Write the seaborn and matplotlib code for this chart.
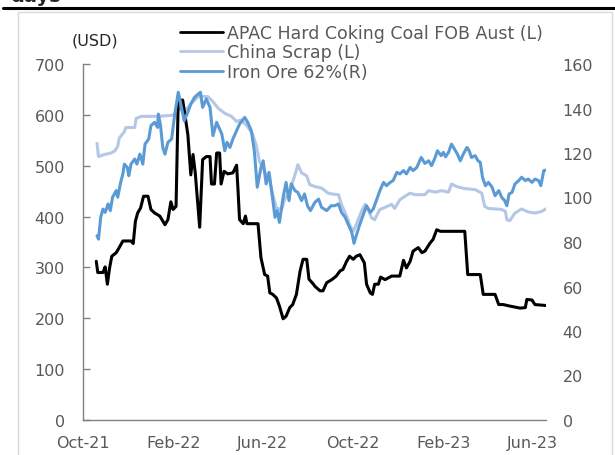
import pandas as pd
import matplotlib
matplotlib.use("Agg")
import matplotlib.pyplot as plt
from matplotlib.patches import Rectangle
from matplotlib.lines import Line2D
import seaborn as sns

# Series start date (days since 1 Oct 2021)
start = pd.Timestamp("2021-10-01")

coal_day = [18, 20, 27, 30, 33, 36, 39, 45, 49, 54, 65, 68, 71, 74, 78, 82, 88, 92, 97, 104,
            111, 115, 119, 122, 126, 129, 132, 135, 138, 142, 146, 149, 152, 158, 162, 167, 172, 174, 178, 181,
            185, 187, 191, 196, 203, 208, 210, 212, 217, 220, 222, 237, 241, 246, 250, 253, 257, 262, 266, 271,
            275, 280, 284, 289, 294, 298, 303, 306, 312,
            314, 321, 325, 330, 337, 343, 348, 352, 357, 361, 366, 370, 375, 381, 384, 389, 392, 395, 400, 403,
            409, 418, 429, 434, 438, 443, 447, 454, 459, 463, 470, 474, 479, 484, 517, 521, 538, 542, 558, 563,
            569, 578, 585, 592, 599, 601, 608, 612, 628]
coal_usd = [312, 290, 290, 301, 267, 299, 322, 329, 339, 352, 352, 347, 391, 407, 417, 440, 440, 414, 407, 401,
            384, 394, 429, 414, 420, 633, 629, 629, 600, 561, 482, 522, 486, 379, 512, 518, 518, 464, 464, 525,
            525, 464, 489, 484, 486, 501, 450, 394, 386, 401, 386, 386, 319, 286, 283, 250, 247, 240, 224, 199,
            204, 221, 227, 247, 293, 316, 316, 277, 267,
            263, 254, 254, 270, 276, 283, 293, 296, 312, 322, 316, 322, 325, 309, 267, 250, 247, 267, 267, 281,
            276, 283, 283, 314, 299, 312, 332, 339, 329, 332, 348, 355, 374, 371, 371, 286, 286, 247, 247, 227,
            227, 224, 222, 220, 221, 237, 236, 227, 225]

scrap_day = [19, 21, 29, 38, 43, 47, 49, 56, 58, 70, 72, 79, 101, 120, 126, 130, 138, 147, 156, 169,
             176, 183, 192, 201, 208, 214, 223, 230, 235, 239, 246, 253, 257, 262, 269, 273, 280, 287, 291, 296,
             303, 307,
             314, 323, 332, 339, 346, 350, 357, 361, 366, 370, 377, 382, 386, 391, 395, 402, 409, 418, 422, 429,
             436, 443, 450, 463, 468, 477, 486, 495, 499, 506, 517, 531, 540, 544, 549, 558, 567, 572, 574, 578,
             585, 594, 603, 612, 621, 628]
scrap_usd = [544, 518, 522, 525, 529, 538, 554, 567, 575, 575, 593, 597, 597, 599, 603, 612, 607, 623, 636, 636,
             626, 613, 603, 597, 587, 590, 577, 561, 538, 508, 489, 469, 443, 417, 414, 433, 450, 482, 502, 486,
             480, 463,
             459, 456, 446, 444, 443, 424, 401, 384, 371, 384, 410, 424, 414, 397, 394, 414, 418, 424, 416, 433,
             440, 446, 443, 443, 451, 448, 451, 448, 464, 459, 455, 453, 446, 420, 416, 415, 414, 410, 394, 392,
             407, 415, 409, 407, 410, 416]

ore_day = [19, 21, 24, 27, 30, 34, 37, 40, 45, 47, 51, 54, 56, 60, 62, 65, 70, 73, 77, 81,
           84, 89, 92, 97, 101, 102, 105, 108, 111, 115, 120, 124, 129, 132, 137, 141, 146, 151, 156, 159,
           162, 167, 172, 176, 181, 185, 188, 192, 195, 199, 203, 208, 212, 219, 223, 228, 232, 236, 241, 244,
           248, 252, 256, 260, 263, 266, 271, 275, 279, 282, 287, 291, 296, 300, 304, 308,
           314, 319, 323, 330, 336, 341, 346, 350, 355, 359, 364, 367, 370, 375, 380, 384, 389, 393, 398, 402,
           407, 411, 416, 420, 425, 429, 434, 438, 443, 447, 452, 458, 463, 468, 472, 476, 480, 485, 488, 491,
           495, 499, 503, 507, 511, 515, 520, 523, 526, 531, 535, 538, 541, 545, 549, 554, 558, 563, 567, 571,
           574, 577, 581, 585, 590, 594, 599, 603, 608, 612, 617, 620, 624, 628]
ore_usd = [82.8, 81.3, 91.1, 94.8, 93.3, 97.1, 94.1, 100.1, 103.1, 100.1, 106.8, 110.6, 115.0, 113.5, 109.8, 115.0, 117.3, 115.0, 119.5, 115.0,
           124.0, 126.3, 132.3, 133.8, 131.5, 137.5, 132.3, 122.5, 119.5, 124.8, 126.3, 136.8, 147.3, 142.8, 134.5, 137.5, 142.0, 145.0, 146.5, 147.3,
           140.5, 144.3, 140.5, 127.8, 133.8, 130.8, 128.5, 121.0, 124.8, 122.5, 126.3, 130.0, 133.0, 136.0, 133.8, 130.0, 121.0, 104.6, 113.5, 116.5,
           106.1, 111.3, 101.6, 91.1, 94.1, 88.8, 100.1, 106.8, 98.6, 106.1, 103.1, 102.3, 98.6, 101.6, 96.3, 94.1,
           97.8, 99.3, 95.6, 94.1, 96.3, 96.3, 97.1, 93.3, 91.1, 88.1, 84.3, 79.4, 82.8, 88.1, 92.6, 96.3, 93.3, 94.8, 99.3, 103.1,
           106.8, 105.3, 106.8, 107.6, 111.3, 110.6, 112.1, 110.6, 113.5, 112.1, 113.5, 118.0, 115.3, 116.5, 114.3, 117.3, 121.0, 118.8, 120.3, 118.3,
           120.3, 124.0, 121.8, 119.5, 116.5, 119.5, 122.5, 121.0, 118.0, 118.8, 116.5, 115.8, 109.1, 105.3, 106.8, 104.6, 100.8, 103.1, 100.1, 98.6,
           96.3, 101.6, 102.3, 106.1, 107.6, 109.1, 107.6, 108.3, 106.8, 108.3, 107.6, 105.3, 112.1, 112.4]

tick_dates = ["2021-10-01", "2022-02-01", "2022-06-01", "2022-10-01", "2023-02-01", "2023-06-01"]
tick_labels = ["Oct-21", "Feb-22", "Jun-22", "Oct-22", "Feb-23", "Jun-23"]
labels = ["APAC Hard Coking Coal FOB Aust (L)", "China Scrap (L)", "Iron Ore 62%(R)"]
colors = ["#000000", "#b4c7e7", "#5b9bd5"]


def to_frame(days, vals):
    return pd.DataFrame({"date": start + pd.to_timedelta(days, unit="D"), "value": vals})


coal_df = to_frame(coal_day, coal_usd)
scrap_df = to_frame(scrap_day, scrap_usd)
ore_df = to_frame(ore_day, ore_usd)

sns.set_style("white")
plt.rcParams["font.family"] = ["DejaVu Sans"]
grey = "#595959"
fs = 11.5

W, H = 615, 456
fig = plt.figure(figsize=(W / 100, H / 100), dpi=100)
ax = fig.add_axes([83 / W, 1 - 421 / H, (546 - 83) / W, (421 - 65) / H])
ax2 = ax.twinx()

sns.lineplot(data=scrap_df, x="date", y="value", ax=ax, color=colors[1], lw=2.2, errorbar=None)
sns.lineplot(data=coal_df, x="date", y="value", ax=ax, color=colors[0], lw=2.2, errorbar=None)
sns.lineplot(data=ore_df, x="date", y="value", ax=ax2, color=colors[2], lw=2.2, errorbar=None)

ax.set_xlim(start, start + pd.Timedelta(days=627))
ax.set_ylim(0, 700)
ax2.set_ylim(0, 160)
ax.set_yticks(range(0, 701, 100))
ax2.set_yticks(range(0, 161, 20))
ax.set_xticks(pd.to_datetime(tick_dates))
ax.set_xticklabels(tick_labels)
for a in (ax, ax2):
    a.set_xlabel("")
    a.set_ylabel("")
    for s in a.spines.values():
        s.set_visible(False)
for s in ("left", "bottom"):
    ax.spines[s].set_visible(True)
    ax.spines[s].set_color("#808080")
    ax.spines[s].set_linewidth(1)

ax.tick_params(axis="both", direction="in", length=5, width=1, color="#808080",
               labelcolor=grey, labelsize=fs)
ax.tick_params(axis="y", pad=13)
ax.tick_params(axis="x", pad=11)
ax2.tick_params(axis="y", length=0, labelcolor=grey, labelsize=fs, pad=12)

handles = [Line2D([0], [0], color=c, lw=2) for c in colors]
fig.legend(handles, labels, loc="upper left", bbox_to_anchor=(171 / W, 1 - 16 / H),
           frameon=False, borderpad=0, handlelength=2.5, handletextpad=0.2,
           labelspacing=0.09, fontsize=12.5, labelcolor=grey)

fig.text(72 / W, 1 - 41 / H, "(USD)", fontsize=fs, color="#262626", va="center", ha="left")

# page decorations: cut-off title, rule and chart box
fig.text(10 / W, 1 - 2 / H, "days", fontsize=14, fontweight="bold", va="baseline", ha="left")
fig.add_artist(Line2D([3 / W, 1], [1 - 9 / H, 1 - 9 / H], color="black", lw=2.2,
                      transform=fig.transFigure))
fig.add_artist(Rectangle((18 / W, -0.05), (612 - 18) / W, 1.05 - 13 / H, transform=fig.transFigure,
                         fill=False, ec="#d9d9d9", lw=1))

fig.savefig("out.png", dpi=100)
